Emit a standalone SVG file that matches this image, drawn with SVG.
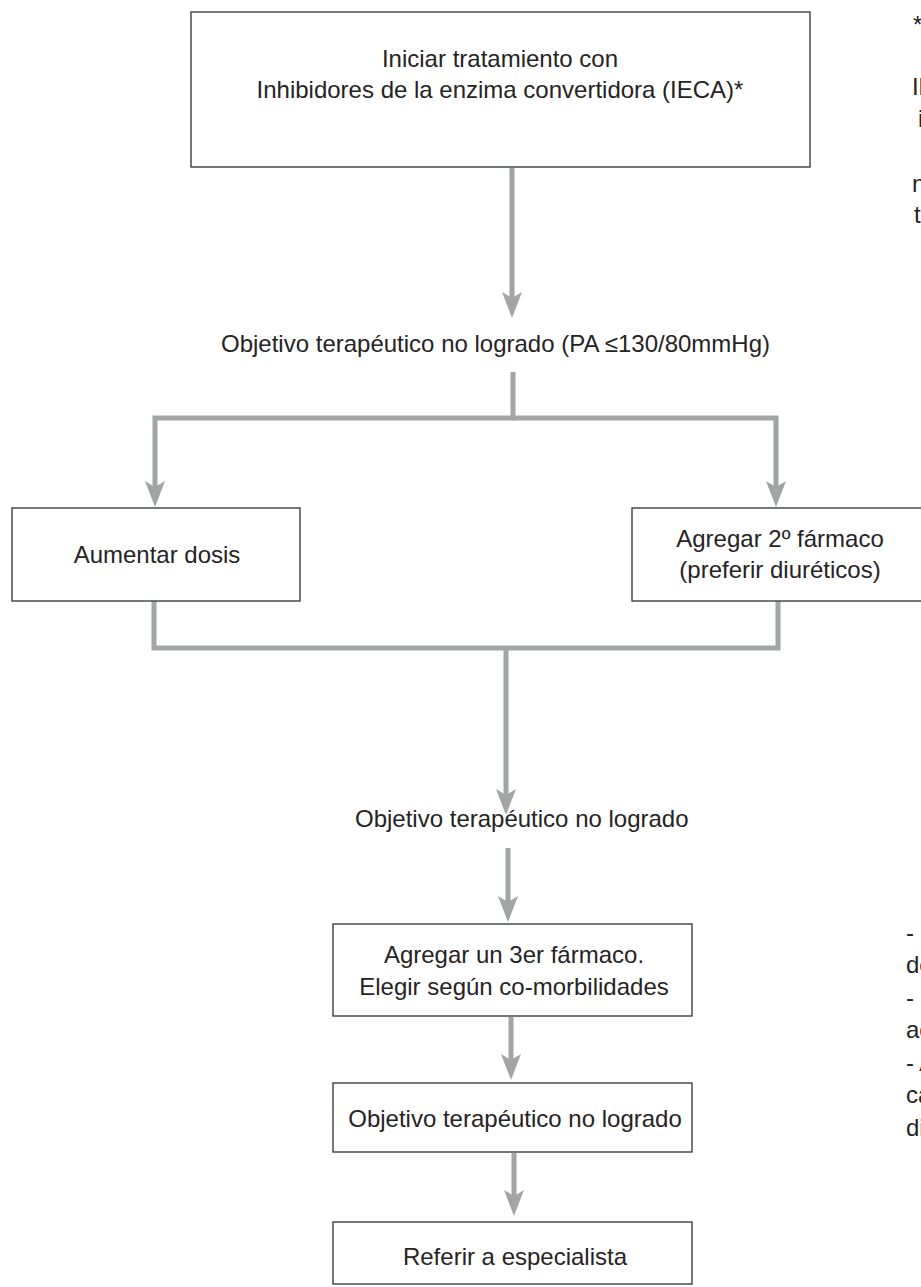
<svg xmlns="http://www.w3.org/2000/svg" width="921" height="1287" viewBox="0 0 921 1287">
<defs>
<style>
.box{fill:#ffffff;stroke:#3a3f40;stroke-width:1.4}
.t{font-family:"Liberation Sans",Arial,sans-serif;font-size:24px;fill:#262324}
.c{text-anchor:middle}
.ln{fill:none;stroke:#a2a4a6;stroke-width:5;stroke-linejoin:miter;stroke-linecap:butt}
</style>
<marker id="ah" markerUnits="userSpaceOnUse" markerWidth="26" markerHeight="20" refX="8" refY="10" orient="auto" overflow="visible">
<path d="M26,10 L0,0 L6,10 L0,20 Z" fill="#a2a4a6"/>
</marker>
</defs>
<rect width="921" height="1287" fill="#ffffff"/>
<g id="connectors">
<path class="ln" d="M512,168 V300" marker-end="url(#ah)"/>
<path class="ln" d="M513,372 V418"/>
<path class="ln" d="M515,418 H155 V489" marker-end="url(#ah)"/>
<path class="ln" d="M511,418 H776 V489" marker-end="url(#ah)"/>
<path class="ln" d="M154,601 V648 H778 V601"/>
<path class="ln" d="M506,648 V797" marker-end="url(#ah)"/>
<path class="ln" d="M508,848 V904" marker-end="url(#ah)"/>
<path class="ln" d="M511,1017 V1062" marker-end="url(#ah)"/>
<path class="ln" d="M514,1153 V1198" marker-end="url(#ah)"/>
</g>
<g id="n_inicio">
<rect class="box" x="191" y="12" width="619" height="155"/>
<text class="t c" x="500" y="67">Iniciar tratamiento con</text>
<text class="t c" x="500" y="98">Inhibidores de la enzima convertidora (IECA)*</text>
</g>
<g id="n_objetivo1">
<text class="t" x="221" y="352">Objetivo terapéutico no logrado (PA ≤130/80mmHg)</text>
</g>
<g id="n_aumentar">
<rect class="box" x="12" y="508" width="288" height="93"/>
<text class="t c" x="157" y="563">Aumentar dosis</text>
</g>
<g id="n_agregar2">
<rect class="box" x="632" y="508" width="296" height="93"/>
<text class="t c" x="780" y="547">Agregar 2º fármaco</text>
<text class="t c" x="780" y="578">(preferir diuréticos)</text>
</g>
<g id="n_objetivo2">
<text class="t" x="355" y="827">Objetivo terapéutico no logrado</text>
</g>
<g id="n_agregar3">
<rect class="box" x="333" y="924" width="359" height="92"/>
<text class="t c" x="514" y="963">Agregar un 3er fármaco.</text>
<text class="t c" x="514" y="995">Elegir según co-morbilidades</text>
</g>
<g id="n_objetivo3">
<rect class="box" x="333" y="1083" width="359" height="69"/>
<text class="t c" x="515" y="1127">Objetivo terapéutico no logrado</text>
</g>
<g id="n_referir">
<rect class="box" x="333" y="1222" width="359" height="62"/>
<text class="t c" x="515" y="1265">Referir a especialista</text>
</g>
<g id="n_nota_superior">
<text class="t" x="913" y="33">*</text>
<text class="t" x="912" y="95">Il</text>
<text class="t" x="918" y="127">i</text>
<text class="t" x="912" y="192">n</text>
<text class="t" x="914" y="223">t</text>
</g>
<g id="n_nota_inferior">
<text class="t" x="906" y="941">-</text>
<text class="t" x="906" y="973">de</text>
<text class="t" x="906" y="1006">-</text>
<text class="t" x="906" y="1038">ac</text>
<text class="t" x="906" y="1071">- A</text>
<text class="t" x="906" y="1103">ca</text>
<text class="t" x="906" y="1136">di</text>
</g>
</svg>
